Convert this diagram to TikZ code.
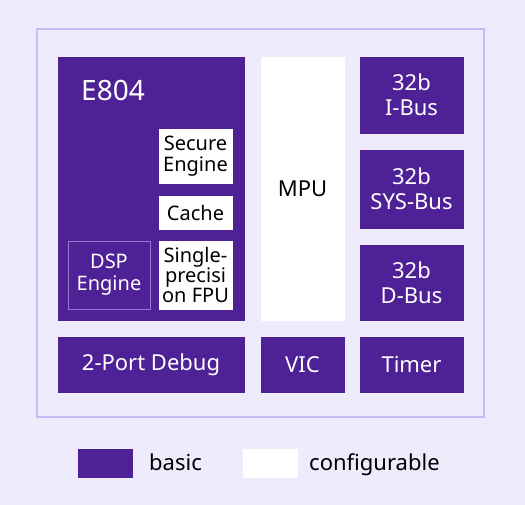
\documentclass[tikz,border=0pt]{standalone}
\usepackage{fontspec}
\setmainfont{Noto Sans}
\definecolor{bg}{RGB}{238,235,252}
\definecolor{pur}{RGB}{79,33,150}
\definecolor{frm}{RGB}{200,186,242}
\definecolor{dspb}{RGB}{150,120,205}
\begin{document}
\begin{tikzpicture}[x=1pt,y=-1pt,
  box/.style={inner sep=0pt,align=center,font=\fontsize{22}{24.7}\selectfont},
  basic/.style={box,fill=pur,draw=pur,text=white},
  conf/.style={box,fill=white,draw=white,text=black},
  small/.style={font=\fontsize{20}{21}\selectfont}]
\useasboundingbox (0,0) rectangle (525,504);
\fill[bg] (-3,-3) rectangle (528,507);
\node[draw=frm,line width=1.2pt,fill=bg,minimum width=447pt,minimum height=388pt,inner sep=0pt] (frame) at (260.5,223) {};
% E804 core
\node[basic,minimum width=186pt,minimum height=263pt] (e804) at (151,188.5) {};
\node[anchor=base west,inner sep=0pt,text=white,font=\fontsize{28}{30}\selectfont] (e804t) at (81,100) {E804};
\node[conf,small,minimum width=73pt,minimum height=54pt] (secure) at (195.5,156) {Secure\\Engine};
\node[conf,small,minimum width=73pt,minimum height=33pt] (cache) at (195.5,212.5) {Cache};
\node[conf,small,minimum width=73pt,minimum height=68pt,font=\fontsize{20}{18.8}\selectfont] (fpu) at (195.5,275) {Single-\\precisi\\on FPU};
\node[box,small,draw=dspb,line width=1pt,text=white,minimum width=82pt,minimum height=68pt,font=\fontsize{20}{22}\selectfont] (dsp) at (109,275) {DSP\\Engine};
\node[basic,minimum width=186pt,minimum height=55pt] (debug) at (151,364.5) {2-Port Debug};
% MPU / VIC
\node[conf,minimum width=83pt,minimum height=263pt] (mpu) at (302.5,188.5) {MPU};
\node[basic,minimum width=83pt,minimum height=55pt] (vic) at (302.5,364.5) {VIC};
% buses
\node[basic,minimum width=103pt,minimum height=76pt] (ibus) at (411.5,95) {32b\\I-Bus};
\node[basic,minimum width=103pt,minimum height=78pt] (sysbus) at (411.5,189) {32b\\SYS-Bus};
\node[basic,minimum width=103pt,minimum height=75pt] (dbus) at (411.5,282.5) {32b\\D-Bus};
\node[basic,minimum width=103pt,minimum height=55pt] (timer) at (411.5,364.5) {Timer};
% legend
\node[basic,minimum width=54pt,minimum height=28pt] (lbasic) at (105,463) {};
\node[anchor=base west,inner sep=0pt,font=\fontsize{22}{24}\selectfont] (lbasict) at (149,470.5) {basic};
\node[conf,minimum width=54pt,minimum height=28pt] (lconf) at (270,463) {};
\node[anchor=base west,inner sep=0pt,font=\fontsize{22}{24}\selectfont] (lconft) at (309,470.5) {configurable};
\end{tikzpicture}
\end{document}
